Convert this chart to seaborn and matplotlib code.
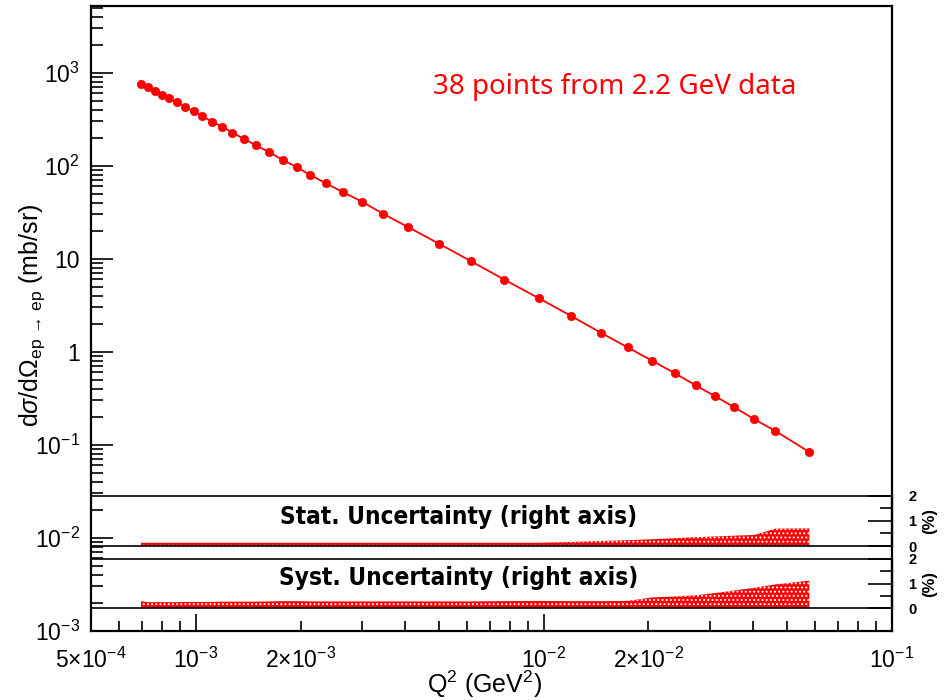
import numpy as np
import matplotlib
matplotlib.use("Agg")
import matplotlib.pyplot as plt
from matplotlib.ticker import FixedLocator, FixedFormatter, NullFormatter
import seaborn as sns

# ep -> ep elastic cross section, 2.2 GeV beam
q2 = [6.96e-4, 7.30e-4, 7.62e-4, 7.98e-4, 8.39e-4, 8.81e-4, 9.31e-4, 9.86e-4,
      1.043e-3, 1.112e-3, 1.191e-3, 1.275e-3, 1.377e-3, 1.491e-3, 1.628e-3,
      1.779e-3, 1.955e-3, 2.136e-3, 2.368e-3, 2.645e-3, 3.004e-3, 3.444e-3,
      4.07e-3, 4.996e-3, 6.17e-3, 7.70e-3, 9.70e-3, 1.201e-2, 1.458e-2,
      1.742e-2, 2.047e-2, 2.377e-2, 2.732e-2, 3.112e-2, 3.52e-2, 4.025e-2,
      4.634e-2, 5.80e-2]
xsec = [761.5, 695, 640.6, 580, 529, 479, 431, 383.6, 341.6, 297.3, 262.7,
        226.3, 193.2, 165.3, 139, 114.9, 95.9, 79.2, 64.5, 52.0, 41.0, 30.5,
        21.9, 14.5, 9.42, 5.95, 3.74, 2.41, 1.60, 1.112, 0.800, 0.589, 0.434,
        0.331, 0.2537, 0.1885, 0.140, 0.0833]
# relative uncertainties in percent
stat_pct = [0.13, 0.13, 0.13, 0.13, 0.13, 0.13, 0.13, 0.13, 0.13, 0.13,
            0.13, 0.13, 0.13, 0.13, 0.13, 0.13, 0.13, 0.13, 0.13, 0.13,
            0.13, 0.13, 0.13, 0.13, 0.13, 0.13, 0.13, 0.16, 0.20, 0.23,
            0.27, 0.31, 0.35, 0.38, 0.41, 0.44, 0.69, 0.70]
syst_pct = [0.29, 0.25, 0.25, 0.25, 0.25, 0.25, 0.26, 0.26, 0.26, 0.26,
            0.27, 0.27, 0.27, 0.27, 0.28, 0.29, 0.29, 0.28, 0.28, 0.28,
            0.28, 0.28, 0.28, 0.28, 0.28, 0.29, 0.30, 0.29, 0.29, 0.30,
            0.44, 0.48, 0.53, 0.62, 0.72, 0.83, 0.97, 1.12]

x_major = [1e-3, 1e-2, 1e-1]
x_major_labels = [r"$10^{-3}$", r"$10^{-2}$", r"$10^{-1}$"]
x_minor = [5e-4, 6e-4, 7e-4, 8e-4, 9e-4, 2e-3, 3e-3, 4e-3, 5e-3, 6e-3, 7e-3,
           8e-3, 9e-3, 2e-2, 3e-2, 4e-2, 5e-2, 6e-2, 7e-2, 8e-2, 9e-2]
x_minor_labels = [r"$5{\times}10^{-4}$", "", "", "", "", r"$2{\times}10^{-3}$",
                  "", "", "", "", "", "", "", r"$2{\times}10^{-2}$",
                  "", "", "", "", "", "", ""]
y_major = [1e-3, 1e-2, 1e-1, 1, 10, 1e2, 1e3]
y_major_labels = [r"$10^{-3}$", r"$10^{-2}$", r"$10^{-1}$", "1", "10",
                  r"$10^{2}$", r"$10^{3}$"]

sns.set_theme(style="white")
plt.rcParams["font.family"] = ["Liberation Sans", "DejaVu Sans"]
plt.rcParams["mathtext.fontset"] = "custom"
plt.rcParams["mathtext.rm"] = "Liberation Sans"
plt.rcParams["mathtext.it"] = "Liberation Sans:italic"
plt.rcParams["mathtext.bf"] = "Liberation Sans:bold"
plt.rcParams["hatch.linewidth"] = 0.9
for key in ["text.color", "axes.labelcolor", "xtick.color", "ytick.color",
            "axes.edgecolor"]:
    plt.rcParams[key] = "black"

W, H = 948, 700
fig = plt.figure(figsize=(W / 100, H / 100), dpi=100)
fig.patch.set_facecolor("white")

left_px, right_px, top_px, bot_px = 91, 891.7, 6, 630.7
L, R = left_px / W, right_px / W
B, T = 1 - bot_px / H, 1 - top_px / H

ax = fig.add_axes([L, B, R - L, T - B])
ax.set_xscale("log")
ax.set_yscale("log")
ax.set_xlim(5e-4, 1e-1)
ax.set_ylim(1e-3, 5200)

sns.lineplot(x=q2, y=xsec, ax=ax, color="red", marker="o", markersize=6,
             markeredgecolor="red", markeredgewidth=0.5, linewidth=1.3,
             legend=False, zorder=5)

for s in ax.spines.values():
    s.set_linewidth(1.6)
    s.set_color("black")

ax.xaxis.set_major_locator(FixedLocator(x_major))
ax.xaxis.set_major_formatter(FixedFormatter(x_major_labels))
ax.xaxis.set_minor_locator(FixedLocator(x_minor))
ax.xaxis.set_minor_formatter(FixedFormatter(x_minor_labels))
ax.yaxis.set_major_locator(FixedLocator(y_major))
ax.yaxis.set_major_formatter(FixedFormatter(y_major_labels))
y_minor = [m * 10.0 ** e for e in range(-3, 4) for m in range(2, 10)
           if m * 10.0 ** e < 5200]
ax.yaxis.set_minor_locator(FixedLocator(y_minor))
ax.yaxis.set_minor_formatter(NullFormatter())

ax.tick_params(axis="x", which="both", direction="in", bottom=True, top=False,
               labelsize=16.5, pad=12, width=1.2, color="black")
ax.tick_params(axis="x", which="major", length=12)
ax.tick_params(axis="x", which="minor", length=7)
ax.tick_params(axis="y", which="both", direction="in", left=True, right=False,
               labelsize=16.5, pad=8, width=1.2, color="black")
ax.tick_params(axis="y", which="major", length=16)
ax.tick_params(axis="y", which="minor", length=8.5)

ax.set_xlabel(r"Q$^{2}$ (GeV$^{2}$)", fontsize=18)
ax.xaxis.set_label_coords(0.492, -0.061)
ax.set_ylabel(r"d$\sigma$/d$\Omega_{\mathrm{ep}\,\rightarrow\,\mathrm{ep}}$ (mb/sr)",
              fontsize=18)
ax.yaxis.set_label_coords(-0.055, 0.505)

ax.text(0.654, 0.870, "38 points from 2.2 GeV data", transform=ax.transAxes,
        color="red", fontsize=20, family="Noto Sans", ha="center", va="center")


def uncertainty_panel(top, bottom, values, title, title_y):
    ay = fig.add_axes([L, 1 - bottom / H, R - L, (bottom - top) / H])
    ay.patch.set_alpha(0)
    ay.set_xscale("log")
    ay.set_xlim(5e-4, 1e-1)
    ay.set_ylim(0, 2)
    ay.fill_between(q2, 0, values, facecolor="red", edgecolor="white",
                    hatch="....", linewidth=0)
    ay.spines["left"].set_visible(False)
    ay.spines["top"].set_linewidth(1.2)
    ay.spines["bottom"].set_linewidth(1.2)
    ay.spines["right"].set_linewidth(1.6)
    for s in ay.spines.values():
        s.set_color("black")
    ay.xaxis.set_visible(False)
    ay.yaxis.tick_right()
    ay.yaxis.set_major_locator(FixedLocator([0, 1, 2]))
    ay.yaxis.set_major_formatter(FixedFormatter(["0", "1", "2"]))
    ay.yaxis.set_minor_locator(FixedLocator([0.5, 1.5]))
    ay.yaxis.set_minor_formatter(NullFormatter())
    ay.tick_params(axis="y", which="both", direction="in", right=True,
                   left=False, width=1.2, labelsize=10.5, pad=12,
                   color="black")
    ay.tick_params(axis="y", which="major", length=17)
    ay.tick_params(axis="y", which="minor", length=8.5)
    for lab in ay.get_yticklabels():
        lab.set_fontweight("bold")
    fig.text(930 / W, 1 - (top + bottom) / 2 / H, "(%)", rotation=90,
             ha="center", va="center", fontsize=12, fontweight="bold")
    ay.text(0.459, title_y, title, transform=ay.transAxes, ha="center",
            va="center", fontsize=17.5, fontweight="bold",
            family=["DejaVu Sans"], fontstretch="condensed")
    return ay


uncertainty_panel(495.7, 546.0, stat_pct, "Stat. Uncertainty (right axis)", 0.57)
uncertainty_panel(559.0, 608.3, syst_pct, "Syst. Uncertainty (right axis)", 0.61)

fig.savefig("out.png", dpi=100)
